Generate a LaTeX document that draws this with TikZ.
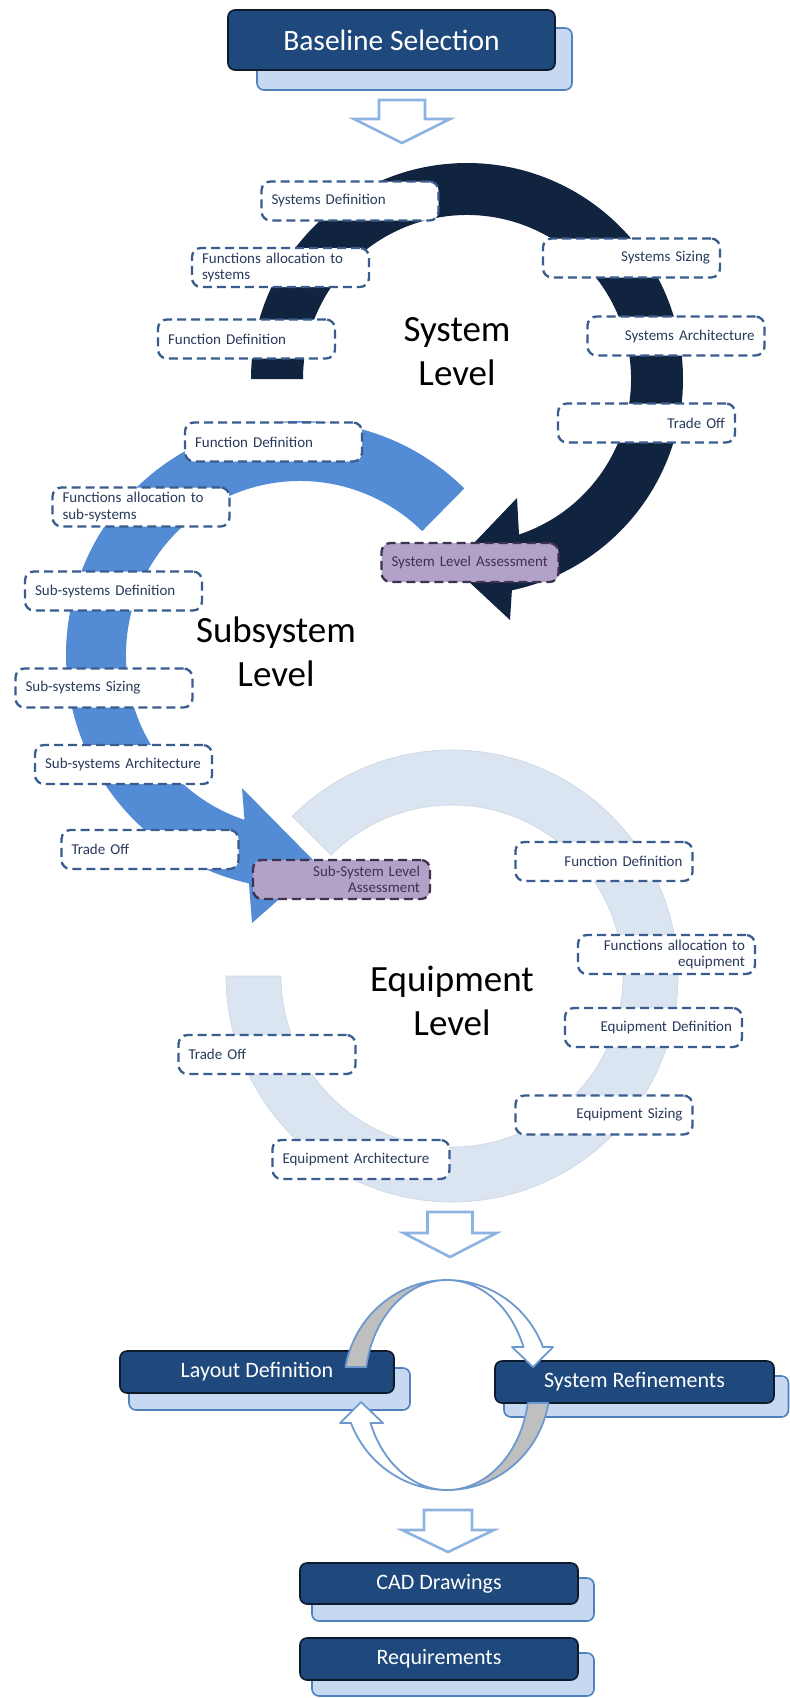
\documentclass[tikz,border=0pt]{standalone}
\usepackage{fontspec}
\setmainfont{Carlito}
\usetikzlibrary{calc}

\definecolor{navy}{HTML}{10233F}
\definecolor{midblue}{HTML}{538CD5}
\definecolor{paleblue}{HTML}{DBE5F1}
\definecolor{paleedge}{HTML}{CCD6E3}
\definecolor{boxfill}{HTML}{1F497D}
\definecolor{boxedge}{HTML}{0C1A2C}
\definecolor{platefill}{HTML}{C6D9F1}
\definecolor{plateedge}{HTML}{4F81BD}
\definecolor{dashblue}{HTML}{3A5C8E}
\definecolor{labeltext}{HTML}{2A3A5C}
\definecolor{lilac}{HTML}{B3A2C7}
\definecolor{plum}{HTML}{3F3151}
\definecolor{arrowedge}{HTML}{8DB3E2}
\definecolor{loopedge}{HTML}{6E99CF}
\definecolor{loopgray}{HTML}{BFBFBF}

\newcommand\tagfont{\fontsize{15}{16.5}\selectfont}
\newcommand\levelfont{\fontsize{37}{44}\selectfont}
\newcommand\headfont{\fontsize{29.5}{34}\selectfont}
\newcommand\boxfont{\fontsize{22}{26}\selectfont}

% hollow block arrow pointing down: centre x, shaft half width, head half width, top, head base, tip
\newcommand\blockdown[6]{%
  \draw[hollow] (#1-#2,#4) -- (#1+#2,#4) -- (#1+#2,#5) -- (#1+#3,#5) -- (#1,#6)
    -- (#1-#3,#5) -- (#1-#2,#5) -- cycle;}

\tikzset{
  tagbox/.style={draw=dashblue, fill=white, line width=2.3pt, dash pattern=on 9pt off 5pt,
    rounded corners=9pt, minimum width=177pt, minimum height=39pt, inner xsep=10pt,
    inner ysep=0pt, text width=157pt, font=\tagfont, text=labeltext},
  tagL/.style={tagbox, align=left},
  tagR/.style={tagbox, align=right},
  assess/.style={fill=lilac, draw=plum, text=plum},
  frontbox/.style={draw=boxedge, fill=boxfill, line width=1.6pt, rounded corners=7pt,
    text=white, inner sep=0pt},
  plate/.style={draw=plateedge, fill=platefill, line width=1.6pt, rounded corners=7pt},
  hollow/.style={draw=arrowedge, fill=white, line width=2.6pt, line join=miter},
  loopband/.style={draw=loopedge, line width=1.8pt, line join=round},
  levellabel/.style={font=\levelfont, align=center, text=black},
}

\begin{document}
\begin{tikzpicture}[x=1pt,y=-1pt]
\useasboundingbox (0,0) rectangle (790,1698);
\fill[white] (0,0) rectangle (790,1698);

% ---- level rings ----
% equipment level (open ring, no head)
\filldraw[fill=paleblue, draw=paleedge, line width=0.6pt]
  ([shift={(452,976)}]225:226) arc[start angle=225, end angle=540, radius=226]
  -- ([shift={(452,976)}]540:171) arc[start angle=540, end angle=225, radius=171] -- cycle;

% system level (clockwise, head at lower right)
\fill[navy]
  ([shift={(467,379)}]180:216) arc[start angle=180, end angle=438, radius=216]
  -- (510,620) -- (452,566) -- (517,498)
  -- ([shift={(467,379)}]431.5:164) arc[start angle=431.5, end angle=180, radius=164] -- cycle;

% subsystem level (counter-clockwise, head at lower right)
\fill[midblue]
  ([shift={(300,655)}]314.6:234) arc[start angle=314.6, end angle=102.6, radius=234]
  -- (252,923) -- (318,865) -- (242,788)
  -- ([shift={(300,655)}]108.6:174) arc[start angle=108.6, end angle=314.6, radius=174] -- cycle;

% ---- level titles ----
\node[levellabel] (syslevel) at (457,352) {System\\Level};
\node[levellabel] (subslevel) at (276,652) {Subsystem\\Level};
\node[levellabel] (eqlevel) at (452,1001) {Equipment\\Level};

% ---- system level steps ----
\node[tagL] (s1) at (350,201) {Systems Definition};
\node[tagL] (s2) at (280.5,267.5) {Functions allocation to\\systems};
\node[tagL] (s3) at (246.5,339) {Function Definition};
\node[tagR] (s4) at (631.5,258) {Systems Sizing};
\node[tagR] (s5) at (676,336) {Systems Architecture};
\node[tagR] (s6) at (646.5,423) {Trade Off};
\node[tagL, assess] (s7) at (470,562.5) {System Level Assessment};

% ---- subsystem level steps ----
\node[tagL] (b1) at (273.5,442) {Function Definition};
\node[tagL] (b2) at (141,507) {Functions allocation to\\sub-systems};
\node[tagL] (b3) at (113.5,591) {Sub-systems Definition};
\node[tagL] (b4) at (104,688) {Sub-systems Sizing};
\node[tagL] (b5) at (123.5,764.5) {Sub-systems Architecture};
\node[tagL] (b6) at (150,849.5) {Trade Off};
\node[tagR, assess] (b7) at (341.5,879.5) {Sub-System Level\\Assessment};

% ---- equipment level steps ----
\node[tagR] (e1) at (604,861.5) {Function Definition};
\node[tagR] (e2) at (666.5,954.5) {Functions allocation to\\equipment};
\node[tagR] (e3) at (653.5,1027.5) {Equipment Definition};
\node[tagL] (e4) at (267,1054.5) {Trade Off};
\node[tagR] (e5) at (604,1115) {Equipment Sizing};
\node[tagL] (e6) at (361,1159.5) {Equipment Architecture};

% ---- stacked boxes ----
\draw[plate] (257,28) rectangle (572,90);
\node[frontbox, minimum width=327pt, minimum height=60pt, font=\headfont] (baseline) at (391.5,40) {Baseline Selection};

\draw[plate] (129,1368) rectangle (410,1410);
\node[frontbox, minimum width=274pt, minimum height=42pt, font=\boxfont] (layout) at (257,1372) {Layout Definition};

\draw[plate] (504,1376) rectangle (788.5,1417);
\node[frontbox, minimum width=279pt, minimum height=42pt, font=\boxfont] (refine) at (634.5,1382) {System Refinements};

\draw[plate] (312,1578) rectangle (594,1621);
\node[frontbox, minimum width=278pt, minimum height=41pt, font=\boxfont] (cad) at (439,1583.5) {CAD Drawings};

\draw[plate] (312,1653) rectangle (594,1696);
\node[frontbox, minimum width=278pt, minimum height=42pt, font=\boxfont] (req) at (439,1659) {Requirements};

% ---- hollow flow arrows ----
\blockdown{402}{23}{48}{100}{119}{143}
\blockdown{450}{22.5}{46.5}{1212}{1233}{1257}
\blockdown{448}{24}{46}{1510}{1530}{1552}

% ---- refinement loop ----
% upper arrow: back face on the left, front face on the right
\filldraw[loopband, fill=loopgray]
  ([shift={(447,1385)}]189.9:103 and 105) arc[start angle=189.9, end angle=270, x radius=103, y radius=105]
  arc[start angle=270, end angle=189.9, x radius=82, y radius=105] -- cycle;
\filldraw[loopband, fill=white]
  (447,1280) arc[start angle=270, end angle=338.8, x radius=103, y radius=105]
  -- (553,1347) -- (533,1367) -- (512,1347)
  -- ([shift={(447,1385)}]338.8:82 and 105) arc[start angle=338.8, end angle=270, x radius=82, y radius=105] -- cycle;
% lower arrow: back face on the right, front face on the left
\filldraw[loopband, fill=loopgray]
  ([shift={(447,1385)}]9.9:103 and 105) arc[start angle=9.9, end angle=90, x radius=103, y radius=105]
  arc[start angle=90, end angle=9.9, x radius=82, y radius=105] -- cycle;
\filldraw[loopband, fill=white]
  (447,1490) arc[start angle=90, end angle=158.8, x radius=103, y radius=105]
  -- (340,1423) -- (361,1402) -- (383,1423)
  -- ([shift={(447,1385)}]158.8:82 and 105) arc[start angle=158.8, end angle=90, x radius=82, y radius=105] -- cycle;

\end{tikzpicture}
\end{document}
